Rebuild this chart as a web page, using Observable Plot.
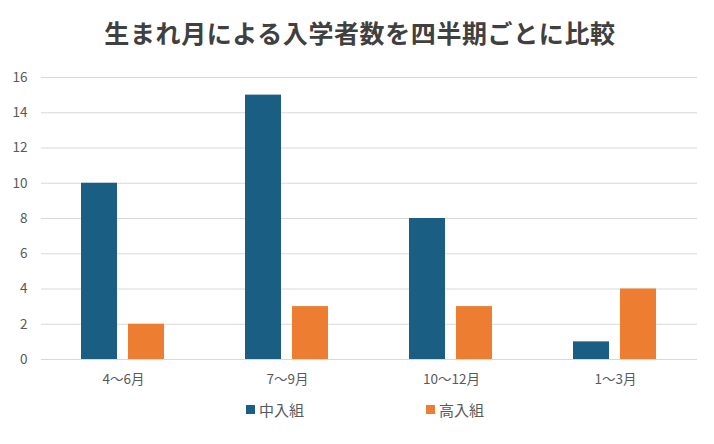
<!DOCTYPE html>
<html>
<head>
<meta charset="utf-8">
<script src="https://cdn.jsdelivr.net/npm/d3@7"></script>
<script src="https://cdn.jsdelivr.net/npm/@observablehq/plot@0.6"></script>
<style>
  body { margin: 0; background: #fff; width: 714px; height: 444px; overflow: hidden; font-family: "Noto Sans CJK JP", "Noto Sans", sans-serif; }
  #title { height: 60px; line-height: 64px; text-align: center; font-size: 25px; font-weight: bold; color: #404040; letter-spacing: 0.6px; padding-left: 6px; }
  #legend { display: flex; justify-content: center; gap: 122px; font-size: 15px; color: #595959; margin-top: 4px; padding-left: 16px; }
  #legend span.item { display: flex; align-items: center; }
  #legend span.sw { display: inline-block; width: 9px; height: 9px; margin-right: 4px; }
</style>
</head>
<body>
<div id="title">生まれ月による入学者数を四半期ごとに比較</div>
<div id="chart"></div>
<div id="legend"></div>
<script>
const categories = ["4〜6月", "7〜9月", "10〜12月", "1〜3月"];
const series = ["中入組", "高入組"];
const nakaValues = [10, 15, 8, 1];
const kouValues = [2, 3, 3, 4];
const colors = ["#1b5e84", "#ed7d31"];
const yTicks = [0, 2, 4, 6, 8, 10, 12, 14, 16];

const data = [];
categories.forEach((c, i) => {
  data.push({category: c, series: series[0], value: nakaValues[i]});
  data.push({category: c, series: series[1], value: kouValues[i]});
});

const chart = Plot.plot({
  width: 714,
  height: 335,
  marginTop: 17,
  marginBottom: 36,
  marginLeft: 41,
  marginRight: 17,
  style: {fontFamily: "'Noto Sans CJK JP', 'Noto Sans', sans-serif", fontSize: "13.5px", color: "#595959"},
  fx: {domain: categories, padding: 0, axis: "bottom", label: null, tickSize: 0, tickPadding: 15},
  x: {domain: series, axis: null, paddingInner: 0.23, paddingOuter: 0.85},
  y: {domain: [0, 16], ticks: yTicks, label: null, tickSize: 0, tickPadding: 14, tickFormat: d => d},
  color: {domain: series, range: colors},
  marks: [
    Plot.gridY(yTicks, {stroke: "#d9d9d9", strokeOpacity: 1, strokeWidth: 1}),
    Plot.barY(data, {fx: "category", x: "series", y: "value", fill: "series"})
  ]
});
document.getElementById("chart").appendChild(chart);

const legend = document.getElementById("legend");
series.forEach((s, i) => {
  const item = document.createElement("span");
  item.className = "item";
  const sw = document.createElement("span");
  sw.className = "sw";
  sw.style.background = colors[i];
  item.appendChild(sw);
  item.appendChild(document.createTextNode(s));
  legend.appendChild(item);
});
</script>
</body>
</html>
